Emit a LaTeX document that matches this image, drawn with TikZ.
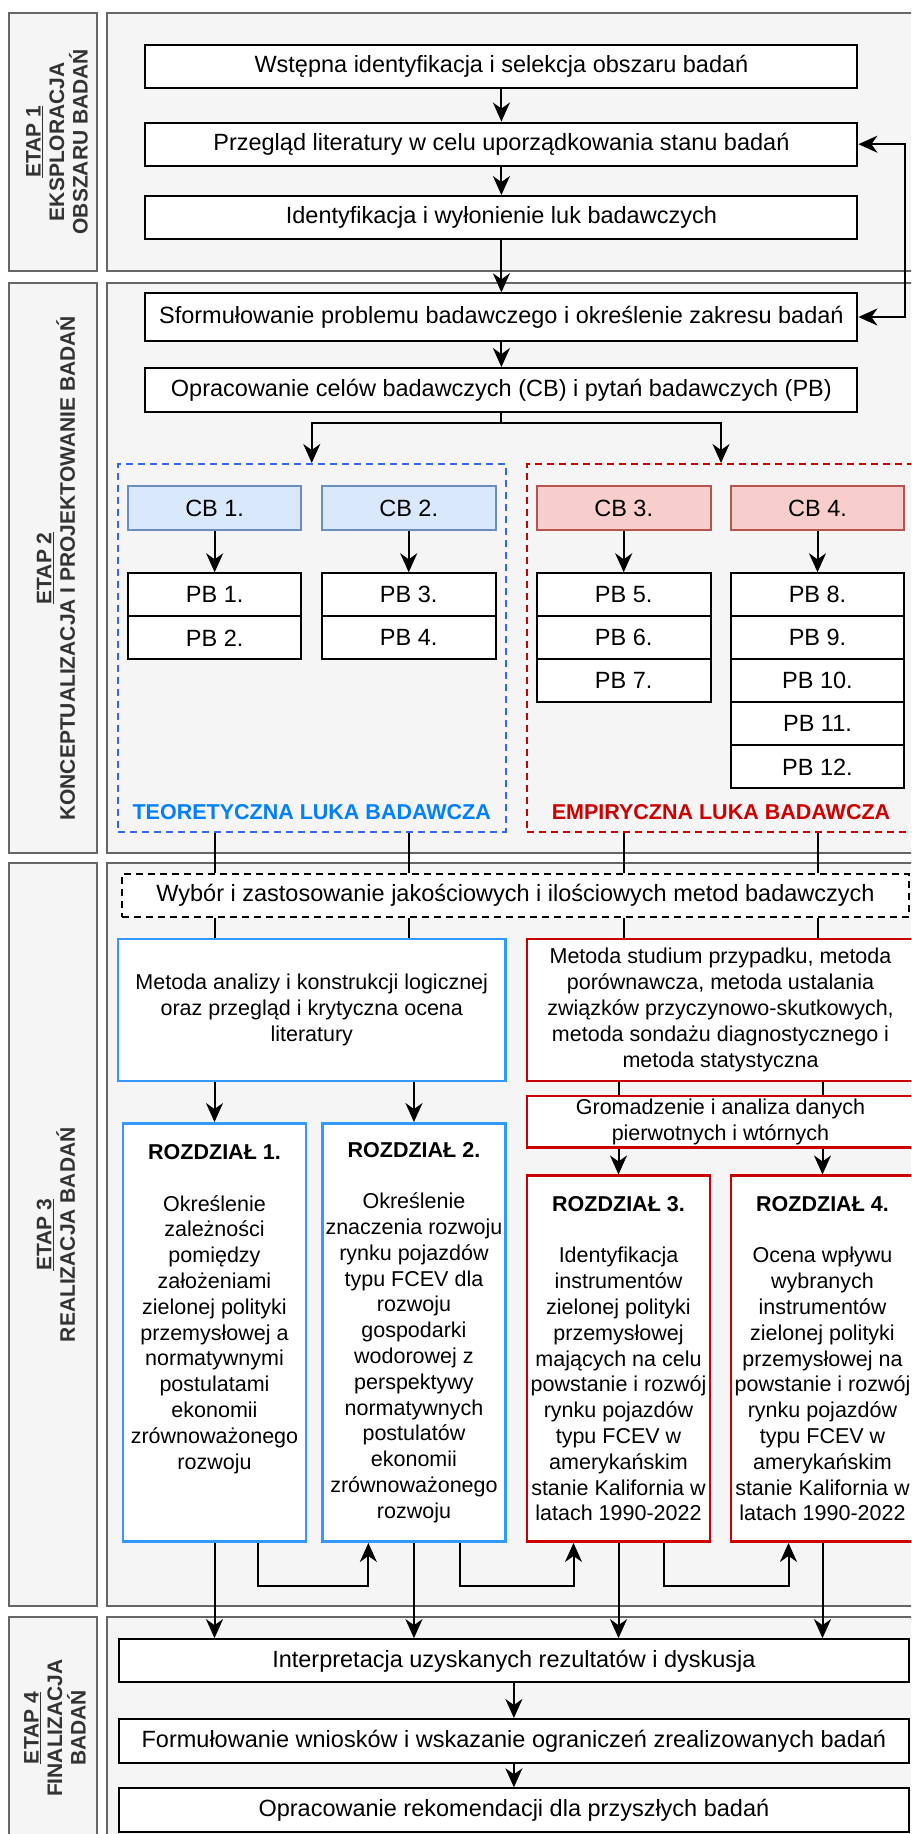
\documentclass[tikz,border=0pt]{standalone}
\usepackage{fontspec}
\setmainfont{Liberation Sans}
\usetikzlibrary{arrows.meta}

\definecolor{panelfill}{HTML}{F5F5F5}
\definecolor{panelline}{HTML}{666666}
\definecolor{labeltext}{HTML}{333333}
\definecolor{cbblue}{HTML}{DAE8FC}
\definecolor{cbblueline}{HTML}{6C8EBF}
\definecolor{cbred}{HTML}{F8CECC}
\definecolor{cbredline}{HTML}{B85450}
\definecolor{teoblue}{HTML}{3366FF}
\definecolor{teotext}{HTML}{007FFF}
\definecolor{metblue}{HTML}{3399FF}
\definecolor{empred}{HTML}{CC0000}

\newcommand\bigtxt{\fontsize{23.5}{28.2}\selectfont}
\newcommand\smalltxt{\fontsize{21.5}{25.8}\selectfont}

\tikzset{
  panel/.style={draw=panelline, fill=panelfill, line width=2pt},
  stagelab/.style={rotate=90, align=center, text=labeltext, inner sep=0pt,
    font=\fontsize{21}{23.5}\selectfont\bfseries},
  box/.style={draw, fill=white, line width=2pt, inner sep=0pt, align=center, font=\bigtxt},
  flow/.style={box, minimum width=712pt, minimum height=43.3pt},
  group/.style={line width=2pt, dash pattern=on 7pt off 5pt, inner sep=0pt,
    minimum width=387.5pt, minimum height=367.7pt},
  grouplab/.style={font=\smalltxt\bfseries, inner sep=0pt},
  cb/.style={box, minimum width=173.6pt, minimum height=44pt},
  pb/.style={box, minimum width=173.6pt, minimum height=43pt},
  metbox/.style={box, line width=2.5pt, font=\smalltxt},
  rbox/.style={metbox, minimum width=183pt},
  line/.style={line width=2pt},
  arr/.style={line width=2pt, ->},
  arrboth/.style={line width=2pt, <->}
}

\begin{document}
\begin{tikzpicture}[x=1pt, y=-1pt, >={Stealth[length=19pt, width=17pt, inset=6pt]}]
  \useasboundingbox (0,0) rectangle (911,1834);
  \clip (0,0) rectangle (911,1834);

  \draw[panel] (9.3,12.7) rectangle (96.7,270.7);
  \draw[panel] (106.7,12.7) rectangle (930,270.7);
  \draw[panel] (9.3,283.3) rectangle (96.7,853.3);
  \draw[panel] (106.7,283.3) rectangle (930,853.3);
  \draw[panel] (9.3,863.3) rectangle (96.7,1606);
  \draw[panel] (106.7,863.3) rectangle (930,1606);
  \draw[panel] (9.3,1616.7) rectangle (96.7,1840);
  \draw[panel] (106.7,1616.7) rectangle (930,1840);

  \node[stagelab] (e1lab) at (57,141.7) {\underline{ETAP 1}\\EKSPLORACJA\\OBSZARU BADAŃ};
  \node[stagelab] (e2lab) at (56,568.3) {\underline{ETAP 2}\\KONCEPTUALIZACJA I PROJEKTOWANIE BADAŃ};
  \node[stagelab] (e3lab) at (56,1234.7) {\underline{ETAP 3}\\REALIZACJA BADAŃ};
  \node[stagelab] (e4lab) at (55,1728) {\underline{ETAP 4}\\FINALIZACJA\\BADAŃ};

  \node[flow] (wstep) at (501.4,66.7) {Wstępna identyfikacja i selekcja obszaru badań};
  \node[flow] (przeglad) at (501.4,144.2) {Przegląd literatury w celu uporządkowania stanu badań};
  \node[flow] (luki) at (501.4,217.7) {Identyfikacja i wyłonienie luk badawczych};
  \node[flow, minimum height=47.4pt] (problem) at (501.4,317) {Sformułowanie problemu badawczego i określenie zakresu badań};
  \node[flow, minimum height=43.7pt] (cele) at (501.4,389.9) {Opracowanie celów badawczych (CB) i pytań badawczych (PB)};

  \node[group, draw=teoblue] (teo) at (311.75,647.85) {};
  \node[group, draw=empred] (emp) at (721,647.85) {};

  \node[cb, fill=cbblue, draw=cbblueline] (cb1) at (214.65,508) {CB 1.};
  \node[cb, fill=cbblue, draw=cbblueline] (cb2) at (408.7,508) {CB 2.};
  \node[cb, fill=cbred, draw=cbredline] (cb3) at (623.7,508) {CB 3.};
  \node[cb, fill=cbred, draw=cbredline] (cb4) at (817.5,508) {CB 4.};

  \foreach \i/\x/\y in {1/214.65/594.8, 2/214.65/637.8, 3/408.7/594.8, 4/408.7/637.8,
      5/623.7/594.8, 6/623.7/637.8, 7/623.7/680.8, 8/817.5/594.8, 9/817.5/637.8,
      10/817.5/680.8, 11/817.5/723.8, 12/817.5/766.8}
    \node[pb] (pb\i) at (\x,\y) {PB \i.};

  \node[grouplab, text=teotext] (teolab) at (311.75,812) {TEORETYCZNA LUKA BADAWCZA};
  \node[grouplab, text=empred] (emplab) at (721,812) {EMPIRYCZNA LUKA BADAWCZA};

  \node[flow, dash pattern=on 7pt off 5pt, minimum width=787pt] (wybor) at (515.5,895.65)
    {Wybór i zastosowanie jakościowych i ilościowych metod badawczych};

  \node[metbox, draw=metblue, minimum width=387.5pt, minimum height=142pt] (metT) at (311.75,1010)
    {Metoda analizy i konstrukcji logicznej\\oraz przegląd i krytyczna ocena\\literatury};
  \node[metbox, draw=empred, minimum width=387pt, minimum height=142pt] (metE) at (720.5,1010)
    {Metoda studium przypadku, metoda\\porównawcza, metoda ustalania\\związków przyczynowo-skutkowych,\\metoda sondażu diagnostycznego i\\metoda statystyczna};
  \node[metbox, draw=empred, minimum width=387pt, minimum height=51.3pt] (grom) at (720.5,1121.65)
    {Gromadzenie i analiza danych\\pierwotnych i wtórnych};

  \node[rbox, draw=metblue, minimum height=418.4pt] (r1) at (214.5,1332.5)
    {\textbf{ROZDZIAŁ 1.}\\~\\Określenie\\zależności\\pomiędzy\\założeniami\\zielonej polityki\\przemysłowej a\\normatywnymi\\postulatami\\ekonomii\\zrównoważonego\\rozwoju\\~\\~};
  \node[rbox, draw=metblue, minimum height=418.4pt] (r2) at (413.95,1332.5)
    {\textbf{ROZDZIAŁ 2.}\\~\\Określenie\\znaczenia rozwoju\\rynku pojazdów\\typu FCEV dla\\rozwoju\\gospodarki\\wodorowej z\\perspektywy\\normatywnych\\postulatów\\ekonomii\\zrównoważonego\\rozwoju};
  \node[rbox, draw=empred, minimum height=366pt] (r3) at (618.5,1358.7)
    {\textbf{ROZDZIAŁ 3.}\\~\\Identyfikacja\\instrumentów\\zielonej polityki\\przemysłowej\\mających na celu\\powstanie i rozwój\\rynku pojazdów\\typu FCEV w\\amerykańskim\\stanie Kalifornia w\\latach 1990-2022};
  \node[rbox, draw=empred, minimum height=366pt] (r4) at (822.5,1358.7)
    {\textbf{ROZDZIAŁ 4.}\\~\\Ocena wpływu\\wybranych\\instrumentów\\zielonej polityki\\przemysłowej na\\powstanie i rozwój\\rynku pojazdów\\typu FCEV w\\amerykańskim\\stanie Kalifornia w\\latach 1990-2022};

  \node[flow, minimum width=790.8pt] (interp) at (513.9,1660.8) {Interpretacja uzyskanych rezultatów i dyskusja};
  \node[flow, minimum width=790.8pt, minimum height=43.7pt] (wnioski) at (513.9,1740.85)
    {Formułowanie wniosków i wskazanie ograniczeń zrealizowanych badań};
  \node[flow, minimum width=790.8pt, minimum height=43.4pt] (rekom) at (513.9,1810) {Opracowanie rekomendacji dla przyszłych badań};

  \draw[arr] (wstep.south) -- (przeglad.north);
  \draw[arr] (przeglad.south) -- (luki.north);
  \draw[arr] (luki.south) -- (problem.north);
  \draw[arr] (problem.south) -- (cele.north);

  \coordinate (fb) at (905,0);
  \draw[arrboth] (przeglad.east) -- (przeglad.east -| fb) -- (problem.east -| fb) -- (problem.east);

  \draw[arr] (cele.south) -- ++(0,10) -| (teo.north);
  \draw[arr] (cele.south) -- ++(0,10) -| (emp.north);

  \draw[arr] (cb1) -- (pb1);
  \draw[arr] (cb2) -- (pb3);
  \draw[arr] (cb3) -- (pb5);
  \draw[arr] (cb4) -- (pb8);

  \draw[line] (cb1 |- teo.south) -- (cb1 |- wybor.north);
  \draw[line] (cb2 |- teo.south) -- (cb2 |- wybor.north);
  \draw[line] (cb3 |- emp.south) -- (cb3 |- wybor.north);
  \draw[line] (cb4 |- emp.south) -- (cb4 |- wybor.north);

  \draw[line] (cb1 |- wybor.south) -- (cb1 |- metT.north);
  \draw[line] (cb2 |- wybor.south) -- (cb2 |- metT.north);
  \draw[line] (cb3 |- wybor.south) -- (cb3 |- metE.north);
  \draw[line] (cb4 |- wybor.south) -- (cb4 |- metE.north);

  \draw[line] (r3 |- metE.south) -- (r3 |- grom.north);
  \draw[line] (r4 |- metE.south) -- (r4 |- grom.north);

  \draw[arr] (r1 |- metT.south) -- (r1.north);
  \draw[arr] (r2 |- metT.south) -- (r2.north);
  \draw[arr] (r3 |- grom.south) -- (r3.north);
  \draw[arr] (r4 |- grom.south) -- (r4.north);

  \draw[arr] ([xshift=43pt]r1.south) -- ++(0,43.3) -| ([xshift=-45.6pt]r2.south);
  \draw[arr] ([xshift=45.6pt]r2.south) -- ++(0,43.3) -| ([xshift=-45pt]r3.south);
  \draw[arr] ([xshift=45.5pt]r3.south) -- ++(0,43.3) -| ([xshift=-34pt]r4.south);

  \draw[arr] (r1.south) -- (r1.south |- interp.north);
  \draw[arr] (r2.south) -- (r2.south |- interp.north);
  \draw[arr] (r3.south) -- (r3.south |- interp.north);
  \draw[arr] (r4.south) -- (r4.south |- interp.north);

  \draw[arr] (interp.south) -- (wnioski.north);
  \draw[arr] (wnioski.south) -- (rekom.north);
\end{tikzpicture}
\end{document}
